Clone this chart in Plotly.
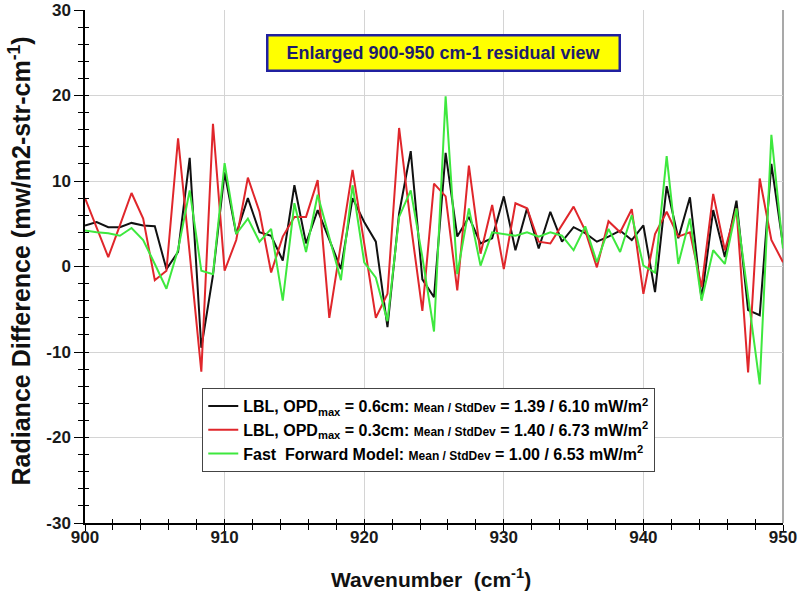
import plotly.graph_objects as go

# Spectral grid: 0.8333 cm-1 sampling (OPD 0.6 cm) from 900 to 950 cm-1
wn_start = 900.0
wn_step = 5.0 / 6.0
n_points = 61
wavenumber = [wn_start + i * wn_step for i in range(n_points)]

# Radiance residuals (mW/m2-str-cm-1)
lbl_opd06 = [4.8, 5.2, 4.6, 4.6, 5.1, 4.8, 4.7, -0.3, 1.7, 12.7,
             -9.5, -1.0, 11.0, 3.8, 8.0, 4.0, 3.6, 0.7, 9.5, 2.7,
             6.6, 3.1, -0.3, 8.0, 5.2, 2.9, -7.1, 6.2, 13.5, -1.5,
             -3.6, 13.3, 3.5, 5.8, 2.7, 3.3, 8.2, 1.9, 6.8, 2.1,
             6.4, 2.9, 4.6, 3.9, 2.9, 3.5, 4.2, 3.1, 4.8, -3.0,
             9.4, 3.3, 8.1, -3.8, 6.6, 1.1, 7.7, -5.1, -5.7, 12.0,
             2.5]

lbl_opd03 = [8.0, 4.6, 1.1, 4.8, 8.6, 5.6, -1.6, -0.5, 15.0, 1.5,
             -12.3, 16.7, -0.5, 3.1, 10.4, 6.4, -0.7, 3.5, 5.8, 5.8,
             10.1, -6.0, 2.7, 11.3, 2.7, -6.0, -3.2, 16.2, 5.0, -5.2,
             9.7, 8.2, -2.8, 11.8, 1.5, 7.2, -0.3, 7.4, 6.8, 2.9,
             2.7, 4.9, 7.0, 4.2, -0.1, 5.3, 4.0, 6.7, -3.2, 3.8,
             6.4, 3.5, 4.0, -2.4, 8.5, 1.9, 6.8, -12.4, 10.3, 3.1,
             0.5]

fast_model = [4.2, 4.0, 3.9, 3.6, 4.5, 3.1, 0.3, -2.6, 2.0, 8.9,
              -0.5, -0.9, 12.1, 3.8, 5.6, 2.9, 4.4, -4.0, 7.4, 1.7,
              8.4, 3.5, -1.6, 9.5, 0.5, -1.3, -6.4, 5.8, 8.9, 1.1,
              -7.6, 19.9, -0.9, 6.8, 0.1, 4.0, 3.8, 3.6, 4.0, 3.5,
              4.0, 3.6, 1.9, 4.7, 0.5, 4.4, 1.7, 6.0, 0.1, -0.7,
              12.9, 0.3, 5.6, -4.0, 1.9, 0.3, 6.8, -3.5, -13.8, 15.4,
              2.1]

small = "<span style='font-size:12px'>Mean / StdDev</span>"
series_names = [
    "LBL, OPD<sub>max</sub> = 0.6cm: " + small + " = 1.39 / 6.10 mW/m<sup>2</sup>",
    "LBL, OPD<sub>max</sub> = 0.3cm: " + small + " = 1.40 / 6.73 mW/m<sup>2</sup>",
    "Fast  Forward Model: " + small + " = 1.00 / 6.53 mW/m<sup>2</sup>",
]
series_values = [lbl_opd06, lbl_opd03, fast_model]
series_colors = ["#111111", "#e0262b", "#3ee83e"]

x_ticks = [900, 910, 920, 930, 940, 950]
x_tick_labels = ["900", "910", "920", "930", "940", "950"]
y_ticks = [-30, -20, -10, 0, 10, 20, 30]
y_tick_labels = ["-30", "-20", "-10", "0", "10", "20", "30"]

FONT = "Liberation Sans, Arial, sans-serif"
TICKFONT = dict(family=FONT, size=17, color="#1a1a1a", weight="bold")

fig = go.Figure()
for name, vals, col in zip(series_names, series_values, series_colors):
    fig.add_trace(go.Scatter(x=wavenumber, y=vals, mode="lines", name=name,
                             line=dict(color=col, width=2)))

# companion axes carrying the inward half of the tick marks
fig.add_trace(go.Scatter(x=[], y=[], xaxis="x2", yaxis="y2",
                         showlegend=False, hoverinfo="skip"))

fig.update_layout(
    width=802, height=606, autosize=False,
    margin=dict(l=85, r=19, t=10, b=83, pad=0),
    paper_bgcolor="white", plot_bgcolor="white",
    font=dict(family=FONT, color="black"),
    xaxis=dict(range=[900, 950], tickvals=x_ticks, ticktext=x_tick_labels,
               automargin=False, showline=True, linecolor="black",
               linewidth=1.5, zeroline=False, ticks="outside", ticklen=6,
               tickwidth=1.2, tickcolor="black", tickfont=TICKFONT,
               ticklabelstandoff=-8,
               showgrid=True, gridcolor="#d4d4d4", gridwidth=1.2,
               minor=dict(dtick=2, ticks="outside", ticklen=5,
                          tickcolor="black", showgrid=False)),
    yaxis=dict(range=[-30, 30], tickvals=y_ticks, ticktext=y_tick_labels,
               automargin=False, showline=True, linecolor="black",
               linewidth=1.5, zeroline=False, ticks="outside", ticklen=9,
               tickwidth=1.2, tickcolor="black", tickfont=TICKFONT,
               showgrid=True, gridcolor="#d4d4d4", gridwidth=1.2,
               minor=dict(dtick=2, ticks="outside", ticklen=5,
                          tickcolor="black", showgrid=False)),
    xaxis2=dict(range=[900, 950], overlaying="x", side="bottom",
                tickvals=x_ticks, ticks="inside", ticklen=4,
                tickcolor="black", showticklabels=False, showgrid=False,
                zeroline=False, showline=False, automargin=False,
                minor=dict(dtick=2, ticks="inside", ticklen=4,
                           tickcolor="black")),
    yaxis2=dict(range=[-30, 30], overlaying="y", side="left",
                tickvals=y_ticks, ticks="inside", ticklen=4,
                tickcolor="black", showticklabels=False, showgrid=False,
                zeroline=False, showline=False, automargin=False,
                minor=dict(dtick=2, ticks="inside", ticklen=4,
                           tickcolor="black")),
    legend=dict(x=0.168, y=0.263, xanchor="left", yanchor="top",
                bgcolor="white", bordercolor="#444444", borderwidth=1,
                font=dict(family=FONT, size=16, color="black", weight="bold"),
                tracegroupgap=0, itemwidth=30),
    showlegend=True,
)

# right-hand frame edge
fig.add_shape(type="line", xref="paper", yref="paper", x0=1, x1=1, y0=0, y1=1,
              line=dict(color="#8c8c8c", width=1.5), layer="below")

# boxed caption
fig.add_annotation(xref="paper", yref="paper", x=0.513, y=0.916,
                   xanchor="center", yanchor="middle",
                   text="Enlarged 900-950 cm-1 residual view", showarrow=False,
                   font=dict(family=FONT, size=18, color="#1c1c6e", weight="bold"),
                   bgcolor="#ffff00", bordercolor="#2020a0", borderwidth=2.5,
                   borderpad=2, width=346, height=29)

# axis titles
fig.add_annotation(xref="paper", yref="paper", x=0.496, y=-0.107,
                   xanchor="center", yanchor="middle",
                   text="Wavenumber  (cm<sup>-1</sup>)", showarrow=False,
                   font=dict(family=FONT, size=21, color="#111111", weight="bold"))
fig.add_annotation(xref="paper", yref="paper", x=-0.093, y=0.51,
                   xanchor="center", yanchor="middle",
                   text="Radiance Difference (mw/m2-str-cm<sup>-1</sup>)",
                   textangle=-90, showarrow=False,
                   font=dict(family=FONT, size=25, color="#111111", weight="bold"))

fig.write_html("out.html")
